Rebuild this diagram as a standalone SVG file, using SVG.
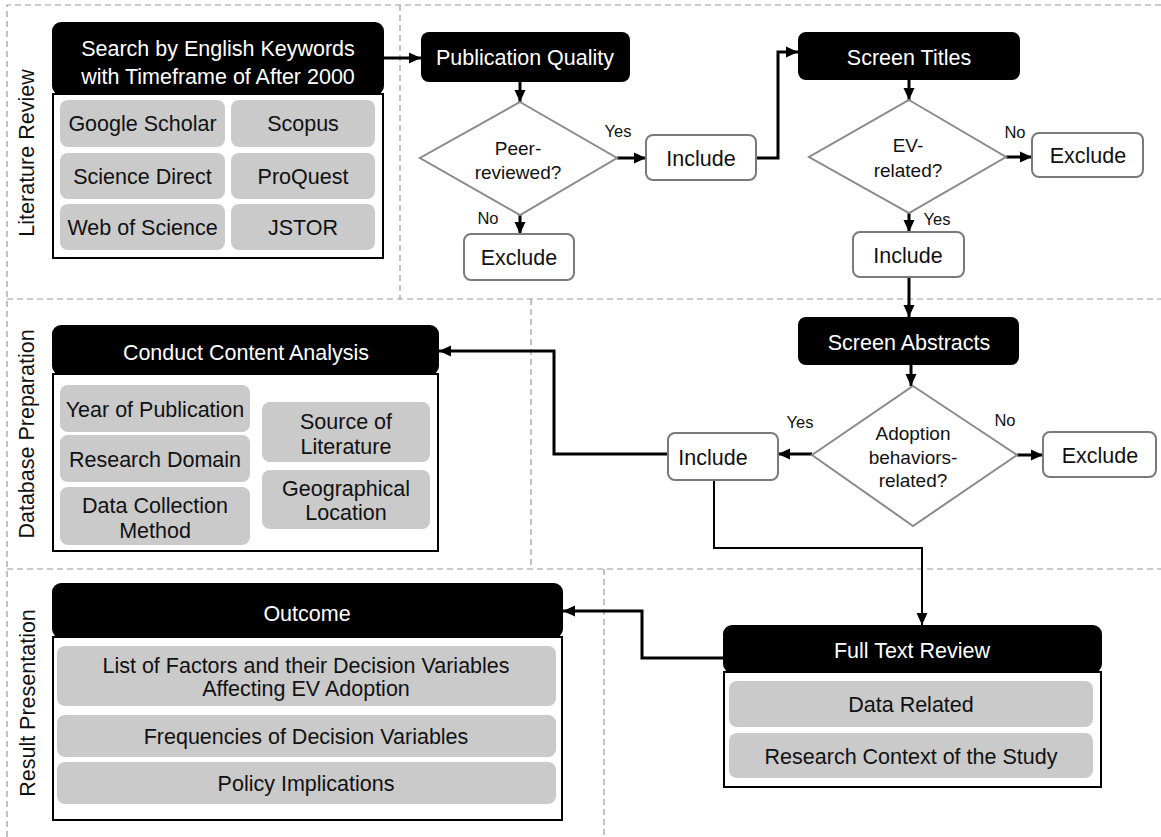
<svg xmlns="http://www.w3.org/2000/svg" width="1161" height="837" viewBox="0 0 1161 837">
<style>
.zone{fill:none;stroke:#9a9a9a;stroke-width:1.2;stroke-dasharray:6 4}
.hdr{fill:#000}
.box{fill:#fff;stroke:#000;stroke-width:2}
.cell{fill:#cacaca}
.dec{fill:#fff;stroke:#8a8a8a;stroke-width:2}
.term{fill:#fff;stroke:#7a7a7a;stroke-width:2}
text{font-family:"Liberation Sans",Arial,Helvetica,sans-serif;font-size:21.5px;text-anchor:middle;fill:#111}
text.w{fill:#fff}
text.q{font-size:19px}
text.lbl{font-size:16.5px}
.conn{fill:none;stroke:#000;stroke-width:3;marker-end:url(#ah)}
.thin{stroke-width:2}
</style>
<defs>
<marker id="ah" markerUnits="userSpaceOnUse" markerWidth="12" markerHeight="12" viewBox="0 0 12 12" refX="12" refY="6" orient="auto">
<path d="M0,0.5 L12,6 L0,11.5 z" fill="#000"/>
</marker>
</defs>
<rect width="1161" height="837" fill="#fff"/>
<g id="zones">
<path class="zone" d="M7,837 V5 H1161 M7,299 H1161 M400,5 V299 M531,299 V569 M7,569 H1161 M604,569 V837"/>
<text transform="translate(26,153) rotate(-90)" y="7.7">Literature Review</text>
<text transform="translate(26,434) rotate(-90)" y="7.7">Database Preparation</text>
<text transform="translate(27,703) rotate(-90)" y="7.7">Result Presentation</text>
</g>
<g id="connectors">
<path class="conn" d="M384,58 H421"/>
<path class="conn" d="M520,82 V102"/>
<path class="conn" d="M617,158 H646"/>
<path class="conn" d="M520,215 V234"/>
<path class="conn" d="M756,158 H778 V52 H798"/>
<path class="conn" d="M909,80 V100"/>
<path class="conn" d="M1006,157 H1032"/>
<path class="conn" d="M909,213 V232"/>
<path class="conn" d="M909,277 V317"/>
<path class="conn" d="M911,365 V386"/>
<path class="conn" d="M812,454 H778"/>
<path class="conn" d="M1017,455 H1043"/>
<path class="conn" d="M668,454 H554 V351 H439"/>
<path class="conn thin" d="M714,480 V548 H922 V625"/>
<path class="conn" d="M723,658 H642 V611 H563"/>
</g>
<g id="search">
<rect class="box" x="53" y="94" width="330" height="164"/>
<rect class="hdr" x="52" y="22" width="332" height="73" rx="9"/>
<text class="w" x="218" y="56">Search by English Keywords</text>
<text class="w" x="218" y="84">with Timeframe of After 2000</text>
<rect class="cell" x="60" y="100" width="165" height="47" rx="8"/>
<rect class="cell" x="231" y="100" width="144" height="47" rx="8"/>
<rect class="cell" x="60" y="153" width="165" height="46" rx="8"/>
<rect class="cell" x="231" y="153" width="144" height="46" rx="8"/>
<rect class="cell" x="60" y="204" width="165" height="46" rx="8"/>
<rect class="cell" x="231" y="204" width="144" height="46" rx="8"/>
<text x="142.5" y="131">Google Scholar</text>
<text x="303" y="131">Scopus</text>
<text x="142.5" y="184">Science Direct</text>
<text x="303" y="184">ProQuest</text>
<text x="142.5" y="235">Web of Science</text>
<text x="303" y="235">JSTOR</text>
</g>
<g id="pubquality">
<rect class="hdr" x="421" y="32" width="209" height="50" rx="8"/>
<text class="w" x="525" y="65">Publication Quality</text>
</g>
<g id="peer">
<polygon class="dec" points="520,102 617,158 520,215 420,158"/>
<text class="q" x="518" y="155">Peer-</text>
<text class="q" x="518" y="179">reviewed?</text>
<text class="lbl" x="618" y="137">Yes</text>
<text class="lbl" x="488" y="224">No</text>
</g>
<g id="include1">
<rect class="term" x="646" y="135" width="110" height="45" rx="7"/>
<text x="701" y="166">Include</text>
</g>
<g id="exclude1">
<rect class="term" x="464" y="234" width="110" height="46" rx="7"/>
<text x="519" y="265">Exclude</text>
</g>
<g id="titles">
<rect class="hdr" x="798" y="32" width="222" height="48" rx="8"/>
<text class="w" x="909" y="65">Screen Titles</text>
</g>
<g id="ev">
<polygon class="dec" points="909,100 1006,157 909,213 809,157"/>
<text class="q" x="908" y="152">EV-</text>
<text class="q" x="908" y="177">related?</text>
<text class="lbl" x="1015" y="138">No</text>
<text class="lbl" x="937" y="225">Yes</text>
</g>
<g id="exclude2">
<rect class="term" x="1032" y="133" width="111" height="44" rx="7"/>
<text x="1088" y="163">Exclude</text>
</g>
<g id="include2">
<rect class="term" x="853" y="232" width="111" height="45" rx="7"/>
<text x="908" y="263">Include</text>
</g>
<g id="abstracts">
<rect class="hdr" x="798" y="317" width="221" height="48" rx="8"/>
<text class="w" x="909" y="350">Screen Abstracts</text>
</g>
<g id="adoption">
<polygon class="dec" points="913,386 1017,455 913,526 812,455"/>
<text class="q" x="913" y="440">Adoption</text>
<text class="q" x="913" y="464">behaviors-</text>
<text class="q" x="913" y="487">related?</text>
<text class="lbl" x="800" y="428">Yes</text>
<text class="lbl" x="1005" y="426">No</text>
</g>
<g id="include3">
<rect class="term" x="668" y="433" width="110" height="47" rx="7"/>
<text x="713" y="465">Include</text>
</g>
<g id="exclude3">
<rect class="term" x="1043" y="432" width="113" height="45" rx="7"/>
<text x="1100" y="463">Exclude</text>
</g>
<g id="content">
<rect class="box" x="53" y="374" width="385" height="177"/>
<rect class="hdr" x="52" y="325" width="387" height="50" rx="9"/>
<text class="w" x="246" y="360">Conduct Content Analysis</text>
<rect class="cell" x="60" y="385" width="190" height="47" rx="8"/>
<rect class="cell" x="60" y="435" width="190" height="47" rx="8"/>
<rect class="cell" x="60" y="487" width="190" height="58" rx="8"/>
<rect class="cell" x="262" y="402" width="168" height="60" rx="8"/>
<rect class="cell" x="262" y="470" width="168" height="59" rx="8"/>
<text x="155" y="417">Year of Publication</text>
<text x="155" y="467">Research Domain</text>
<text x="155" y="513">Data Collection</text>
<text x="155" y="538">Method</text>
<text x="346" y="429">Source of</text>
<text x="346" y="454">Literature</text>
<text x="346" y="496">Geographical</text>
<text x="346" y="520">Location</text>
</g>
<g id="outcome">
<rect class="box" x="53" y="637" width="509" height="183"/>
<rect class="hdr" x="52" y="583" width="511" height="55" rx="9"/>
<text class="w" x="307" y="621">Outcome</text>
<rect class="cell" x="57" y="646" width="499" height="60" rx="8"/>
<rect class="cell" x="57" y="715" width="499" height="42" rx="8"/>
<rect class="cell" x="57" y="762" width="499" height="42" rx="8"/>
<text x="306" y="673">List of Factors and their Decision Variables</text>
<text x="306" y="696">Affecting EV Adoption</text>
<text x="306" y="744">Frequencies of Decision Variables</text>
<text x="306" y="791">Policy Implications</text>
</g>
<g id="fulltext">
<rect class="box" x="724" y="672" width="377" height="115"/>
<rect class="hdr" x="723" y="625" width="379" height="48" rx="9"/>
<text class="w" x="912" y="658">Full Text Review</text>
<rect class="cell" x="729" y="681" width="364" height="46" rx="8"/>
<rect class="cell" x="729" y="733" width="364" height="45" rx="8"/>
<text x="911" y="712">Data Related</text>
<text x="911" y="764">Research Context of the Study</text>
</g>
</svg>
